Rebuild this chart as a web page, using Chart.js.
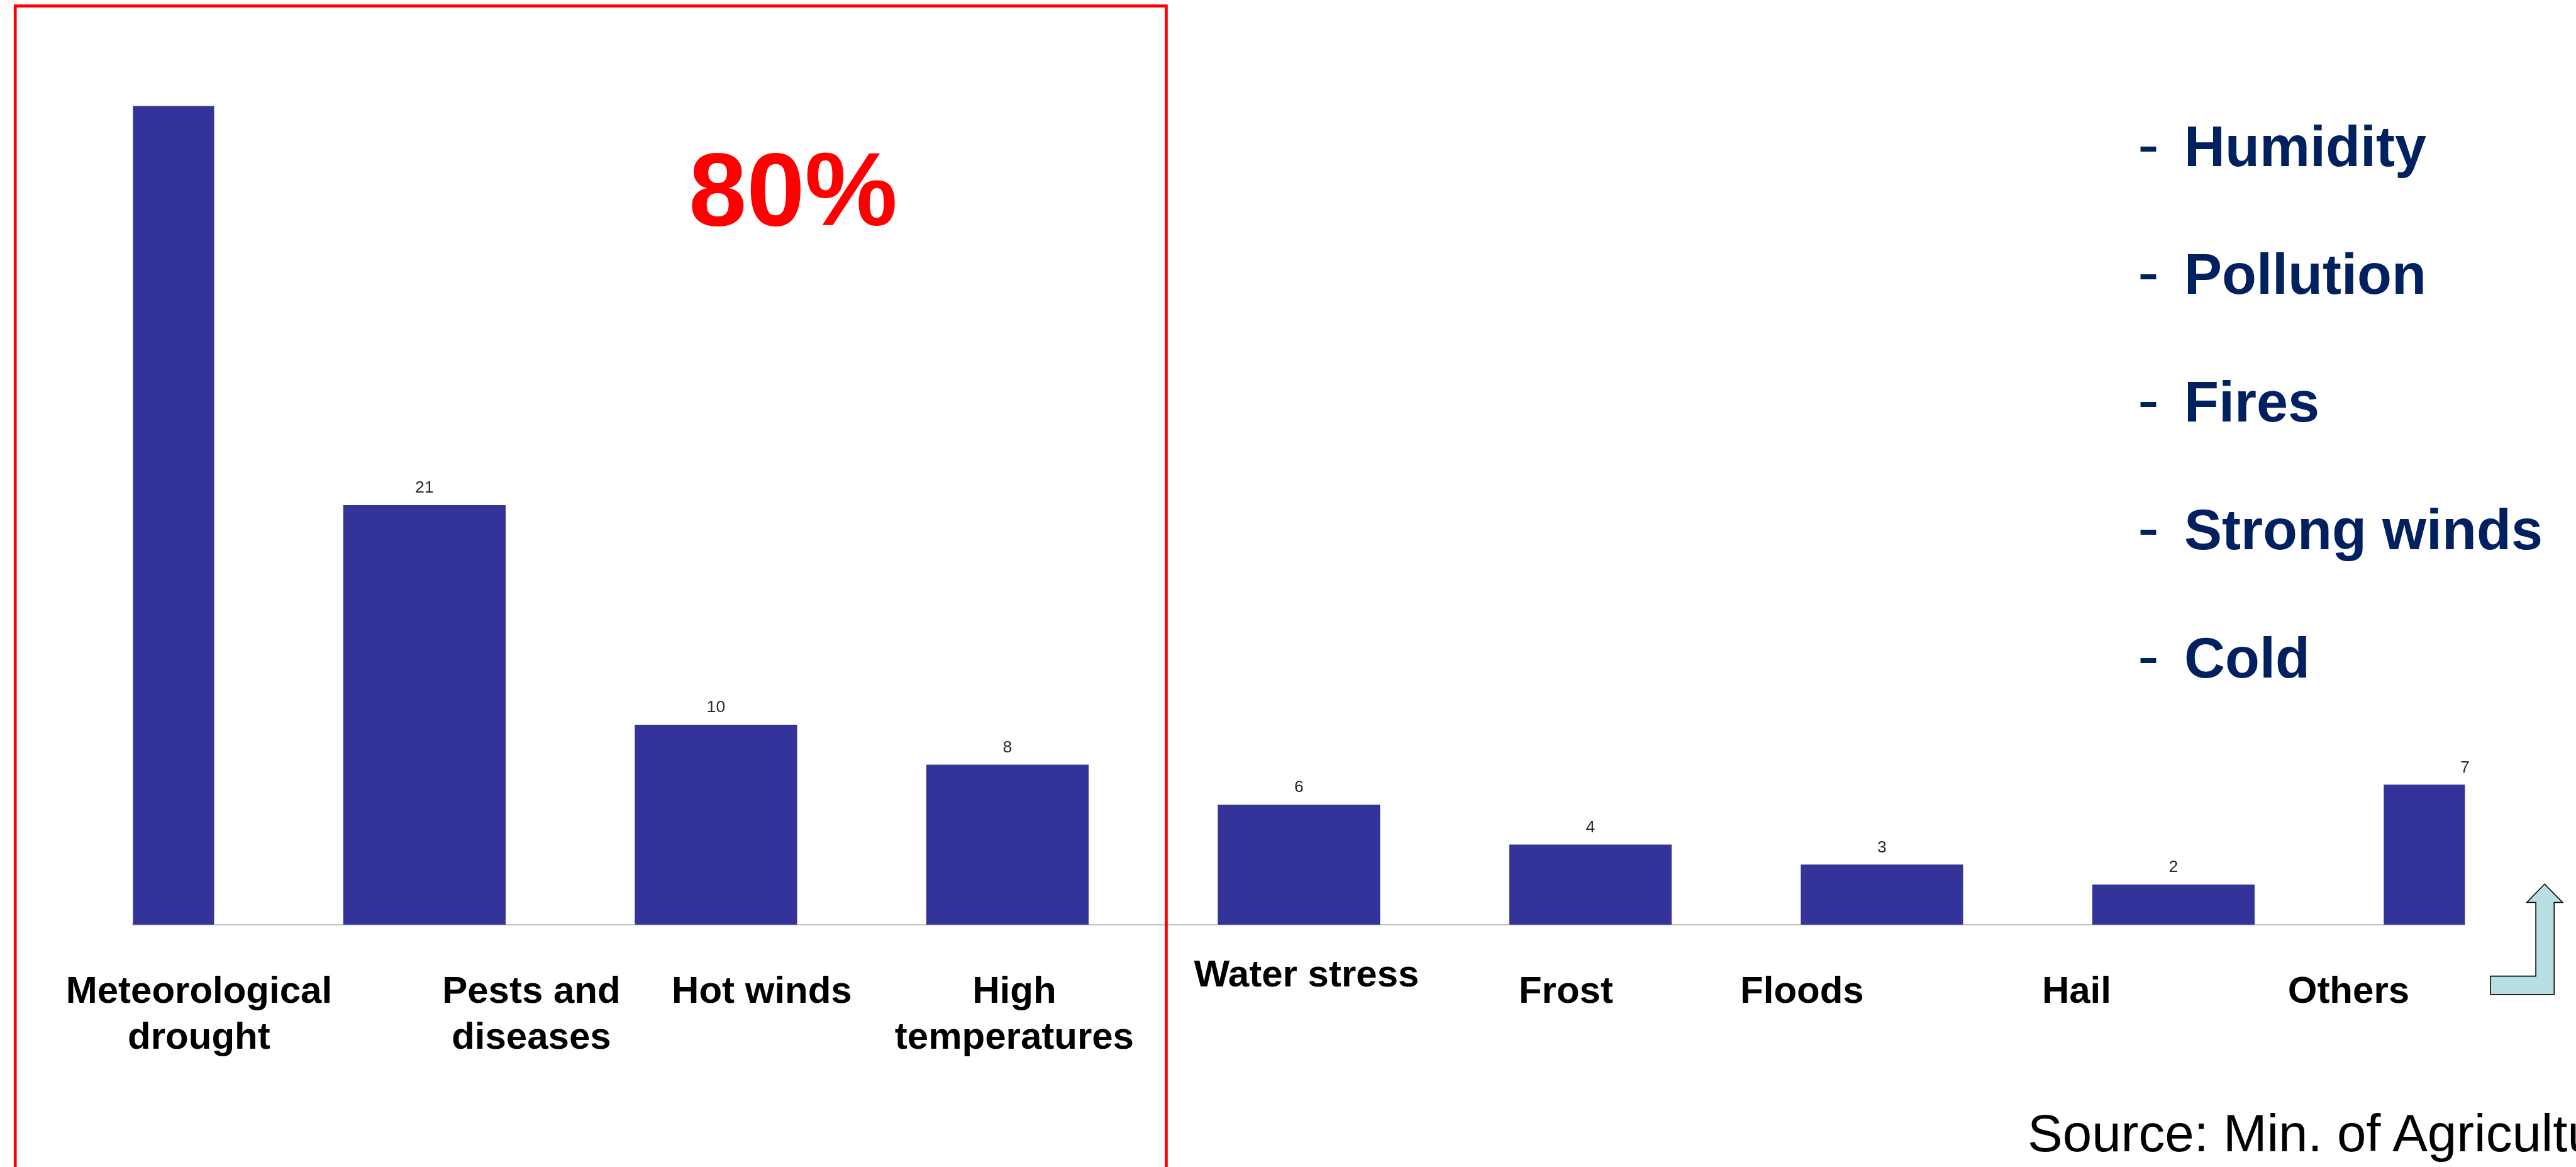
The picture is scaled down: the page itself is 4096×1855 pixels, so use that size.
<!DOCTYPE html>
<html>
<head>
<meta charset="utf-8">
<title>Causes of crop damage</title>
<script src="https://cdn.jsdelivr.net/npm/chart.js@4.4.1/dist/chart.umd.min.js"></script>
<style>
  html, body { margin: 0; padding: 0; background: #fff; overflow: hidden; }
  #wrap { position: relative; width: 4096px; height: 1855px; }
  #damage_chart { position: absolute; left: 0; top: 0; }
  #overlay { position: absolute; left: 0; top: 0; pointer-events: none; }
  #overlay text { font-family: "Liberation Sans", Arial, sans-serif; }
</style>
</head>
<body>
<div id="wrap">
  <canvas id="damage_chart" width="4096" height="1855"></canvas>
  <svg id="overlay" width="4096" height="1855" viewBox="0 0 4096 1855">
    <rect x="24.2" y="9.5" width="1830.2" height="1900" fill="none" stroke="#ff0000" stroke-width="4.75"/>
    <text x="1261" y="358" text-anchor="middle" font-size="166" font-weight="bold" fill="#ff0000">80%</text>
    <g id="other_causes" fill="#002060" font-size="90"></g>
    <polygon points="4046,1405.3 4074.8,1434.5 4061.3,1434.5 4061.3,1580.8 3960,1580.8 3960,1551.6 4032.1,1551.6 4032.1,1434.5 4017.8,1434.5"
             fill="#b7dee2" stroke="#000" stroke-width="1.6"/>
    <text x="3224" y="1830.4" font-size="83.5" fill="#000">Source: Min. of Agriculture</text>
  </svg>
</div>
<script>
// share of reported damage by cause (%)
const categories = [
  ['Meteorological', 'drought'],
  ['Pests and', 'diseases'],
  'Hot winds',
  ['High', 'temperatures'],
  'Water stress',
  'Frost',
  'Floods',
  'Hail',
  'Others'
];
const shares = [41, 21, 10, 8, 6, 4, 3, 2, 7];

// minor causes listed beside the chart
const otherCauses = ['Humidity', 'Pollution', 'Fires', 'Strong winds', 'Cold'];

// where the category captions sit relative to their bar
const labelShift = [105, 170, 73, 11, 12, -39, -127, -154, -185];
const labelLift = [0, 0, 0, 0, -26, 0, 0, 0, 0];
const captionY = 1594.4;
const captionGap = 72.9;

// list on the right
const g = document.getElementById('other_causes');
otherCauses.forEach((name, i) => {
  const y = 263.8 + i * 203.2;
  const dash = document.createElementNS('http://www.w3.org/2000/svg', 'text');
  dash.setAttribute('x', 3399);
  dash.setAttribute('y', y);
  dash.setAttribute('font-size', 102);
  dash.textContent = '-';
  g.appendChild(dash);
  const t = document.createElementNS('http://www.w3.org/2000/svg', 'text');
  t.setAttribute('x', 3473);
  t.setAttribute('y', y);
  t.setAttribute('font-weight', 'bold');
  t.textContent = name;
  g.appendChild(t);
});

const valueLabels = {
  id: 'valueLabels',
  afterDatasetsDraw(chart) {
    const ctx = chart.ctx;
    const meta = chart.getDatasetMeta(0);
    ctx.save();
    ctx.font = '26.6px "Liberation Sans", Arial, sans-serif';
    ctx.fillStyle = '#2a2a2a';
    ctx.textAlign = 'center';
    ctx.textBaseline = 'alphabetic';
    meta.data.forEach((bar, i) => {
      if (i === 0) return; // no label over the cut-off first bar
      ctx.fillText(String(shares[i]), bar.x, bar.y - 20);
    });
    ctx.restore();
  }
};

const captions = {
  id: 'captions',
  afterDraw(chart) {
    const ctx = chart.ctx;
    const xs = chart.scales.x;
    ctx.save();
    ctx.font = 'bold 60px "Liberation Sans", Arial, sans-serif';
    ctx.fillStyle = '#000';
    ctx.textAlign = 'center';
    ctx.textBaseline = 'alphabetic';
    categories.forEach((lab, i) => {
      const lines = [].concat(lab);
      const cx = xs.getPixelForValue(i) + labelShift[i];
      lines.forEach((line, j) => {
        ctx.fillText(line, cx, captionY + labelLift[i] + j * captionGap);
      });
    });
    ctx.restore();
  }
};

const config_damage = {
  type: 'bar',
  data: {
    labels: categories,
    datasets: [{
      data: shares,
      backgroundColor: '#333399',
      borderWidth: 0,
      barThickness: 257.5,
      clip: 0
    }]
  },
  options: {
    responsive: false,
    animation: false,
    devicePixelRatio: 1,
    layout: {
      padding: { left: 211.4, right: 176.6, top: 41.8, bottom: 385.3 }
    },
    plugins: {
      legend: { display: false },
      tooltip: { enabled: false },
      title: { display: false }
    },
    scales: {
      x: {
        type: 'category',
        offset: false,
        grid: { display: false, drawTicks: false },
        border: { display: true, color: '#c4c4c4', width: 2 },
        ticks: { display: false }
      },
      y: {
        display: false,
        min: 0,
        max: 45
      }
    }
  },
  plugins: [valueLabels, captions]
};

const damageChart = new Chart(
  document.getElementById('damage_chart'),
  config_damage
);
</script>
</body>
</html>
